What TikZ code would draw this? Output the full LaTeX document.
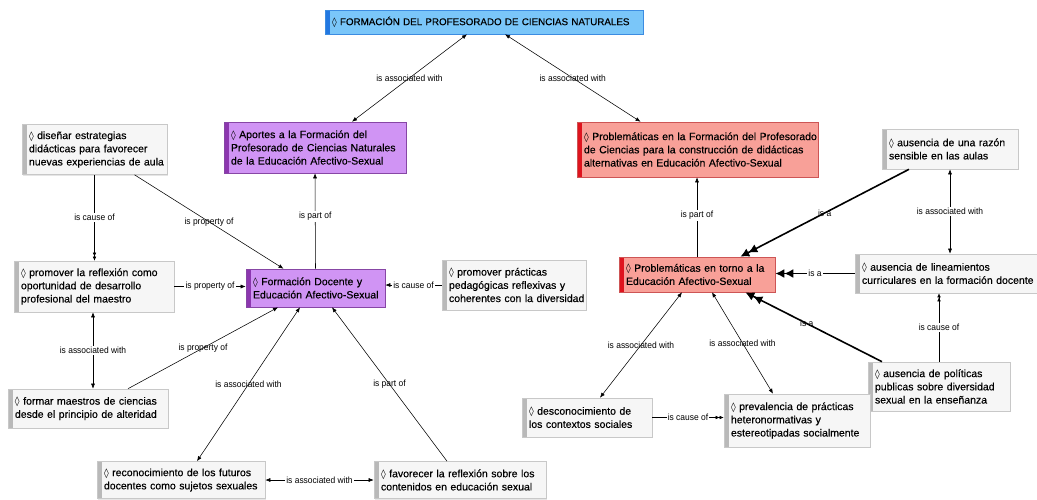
\documentclass[tikz,border=0pt]{standalone}
\usepackage{fontspec}
\setmainfont{Liberation Sans}
\newfontfamily\nodefam{Liberation Sans}[FakeBold=0.35]
\newfontfamily\lblfam{Liberation Sans}[FakeStretch=0.94]
\newfontfamily\symfam{DejaVu Sans}
\usetikzlibrary{arrows.meta,shadows}
\definecolor{gfill}{RGB}{246,246,246}
\definecolor{gborder}{RGB}{200,200,200}
\definecolor{gbar}{RGB}{185,185,185}
\definecolor{pfill}{RGB}{208,148,244}
\definecolor{pborder}{RGB}{135,70,165}
\definecolor{pbar}{RGB}{140,55,175}
\definecolor{rfill}{RGB}{248,160,152}
\definecolor{rborder}{RGB}{205,85,85}
\definecolor{rbar}{RGB}{222,20,30}
\definecolor{bfill}{RGB}{122,198,249}
\definecolor{bborder}{RGB}{60,140,225}
\definecolor{bbar}{RGB}{35,120,225}
\newcommand\nodefont{\nodefam\fontsize{10.5}{13.2}\selectfont}
\newcommand\topfont{\nodefam\fontsize{9.8}{12}\selectfont}
\newcommand\lblfont{\lblfam\fontsize{9}{10}\selectfont}
\newcommand\dm{{\symfam\fontsize{9.5}{10}\selectfont ◊}}
\newcommand\tl[1]{\mbox{#1}}
\tikzset{
  cbox/.style={rectangle, inner xsep=7pt, inner ysep=2pt, align=left, font=\nodefont, text=black,
    line width=0.6pt, drop shadow={shadow xshift=1.2pt, shadow yshift=-1.2pt, opacity=0.2}},
  gbox/.style={cbox, draw=gborder, fill=gfill,
    path picture={\fill[gbar] (path picture bounding box.north west) rectangle ([xshift=5pt]path picture bounding box.south west);}},
  pbox/.style={cbox, draw=pborder, fill=pfill,
    path picture={\fill[pbar] (path picture bounding box.north west) rectangle ([xshift=5pt]path picture bounding box.south west);}},
  rbox/.style={cbox, draw=rborder, fill=rfill,
    path picture={\fill[rbar] (path picture bounding box.north west) rectangle ([xshift=5pt]path picture bounding box.south west);}},
  bbox/.style={cbox, draw=bborder, fill=bfill, font=\topfont,
    path picture={\fill[bbar] (path picture bounding box.north west) rectangle ([xshift=5pt]path picture bounding box.south west);}},
  dims/.style 2 args={minimum width=#1, minimum height=#2, text width=#1-14pt},
  conn/.style={draw=black, line width=0.55pt},
  one/.style={conn, -{Latex[length=5pt,width=4pt]}},
  both/.style={conn, {Latex[length=5pt,width=4pt]}-{Latex[length=5pt,width=4pt]}},
  dbl/.style={conn, -{Latex[length=4pt,width=3.6pt]Latex[length=4pt,width=3.6pt]}},
  isa/.style={draw=black, line width=1.6pt, -{Latex[length=9pt,width=9pt]Latex[length=9pt,width=9pt]}},
  lbl/.style={font=\lblfont, fill=white, inner sep=1.2pt, text=black},
  lbln/.style={font=\lblfont, inner sep=1pt, text=black}
}
\begin{document}
\begin{tikzpicture}[x=1pt,y=-1pt]
\useasboundingbox[fill=white] (0,0) rectangle (1037,499);
% nodes
\node[bbox, dims={318pt}{24pt}] (top) at (484,22) {\tl{\dm{} FORMACIÓN DEL PROFESORADO DE CIENCIAS NATURALES}};
\node[pbox, dims={182pt}{51pt}] (apo) at (315,147.5) {\tl{\dm{} Aportes a la Formación del}\\\tl{Profesorado de Ciencias Naturales}\\\tl{de la Educación Afectivo-Sexual}};
\node[rbox, dims={241pt}{55pt}] (pfp) at (697.5,149.5) {\tl{\dm{} Problemáticas en la Formación del Profesorado}\\\tl{de Ciencias para la construcción de didácticas}\\\tl{alternativas en Educación Afectivo-Sexual}};
\node[gbox, dims={145pt}{50pt}] (dis) at (94.5,149.5) {\tl{\dm{} diseñar estrategias}\\\tl{didácticas para favorecer}\\\tl{nuevas experiencias de aula}};
\node[gbox, dims={160pt}{51pt}] (prr) at (94,286.5) {\tl{\dm{} promover la reflexión como}\\\tl{oportunidad de desarrollo}\\\tl{profesional del maestro}};
\node[pbox, dims={139pt}{38pt}] (fd) at (315.5,288) {\tl{\dm{} Formación Docente y}\\\tl{Educación Afectivo-Sexual}};
\node[gbox, dims={144pt}{50pt}] (ppp) at (514,285) {\tl{\dm{} promover prácticas}\\\tl{pedagógicas reflexivas y}\\\tl{coherentes con la diversidad}};
\node[gbox, dims={160pt}{39pt}] (fm) at (88,408.5) {\tl{\dm{} formar maestros de ciencias}\\\tl{desde el principio de alteridad}};
\node[gbox, dims={168pt}{37pt}] (rec) at (181,480) {\tl{\dm{} reconocimiento de los futuros}\\\tl{docentes como sujetos sexuales}};
\node[gbox, dims={172pt}{37pt}] (fav) at (460,480) {\tl{\dm{} favorecer la reflexión sobre los}\\\tl{contenidos en educación sexual}};
\node[rbox, dims={156pt}{35pt}] (pt) at (697,274.5) {\tl{\dm{} Problemáticas en torno a la}\\\tl{Educación Afectivo-Sexual}};
\node[gbox, dims={136pt}{40pt}] (ar) at (950,149) {\tl{\dm{} ausencia de una razón}\\\tl{sensible en las aulas}};
\node[gbox, dims={182pt}{39pt}] (al) at (946,273.5) {\tl{\dm{} ausencia de lineamientos}\\\tl{curriculares en la formación docente}};
\node[gbox, dims={142pt}{49pt}] (ap) at (939,386.5) {\tl{\dm{} ausencia de políticas}\\\tl{publicas sobre diversidad}\\\tl{sexual en la enseñanza}};
\node[gbox, dims={130pt}{39pt}] (dc) at (587,417.5) {\tl{\dm{} desconocimiento de}\\\tl{los contextos sociales}};
\node[gbox, dims={146pt}{53pt}] (pv) at (797,420.5) {\tl{\dm{} prevalencia de prácticas}\\\tl{heteronormativas y}\\\tl{estereotipadas socialmente}};
% connectors, left part
\draw[both] ([xshift=37pt]apo.north) -- node[lbln]{is associated with} ([xshift=-17pt]top.south);
\draw[both] ([xshift=-57pt]pfp.north) -- node[lbln]{is associated with} ([xshift=21pt]top.south);
\draw[one] (fd.north) -- node[lbl, pos=0.55]{is part of} (apo.south);
\draw[one] ([xshift=40pt]dis.south) -- node[lbln]{is property of} ([xshift=-32pt]fd.north);
\draw[dbl] (dis.south) -- node[lbl]{is cause of} (dis.south |- prr.north);
\draw[one] (prr.east) -- node[lbl]{is property of} (prr.east -| fd.west);
\draw[both] ([xshift=-1pt]prr.south) -- node[lbl]{is associated with} ([xshift=-1pt]prr.south |- fm.north);
\draw[one] ([xshift=40pt]fm.north) -- node[lbln]{is property of} ([xshift=-37.5pt]fd.south);
\draw[both] ([xshift=-15.5pt]fd.south) -- node[lbln]{is associated with} ([xshift=16pt]rec.north);
\draw[one] ([xshift=-13pt]fav.north) -- node[lbln]{is part of} ([xshift=16.5pt]fd.south);
\draw[one] (ppp.west) -- node[lbl]{is cause of} (ppp.west -| fd.east);
\draw[both] (rec.east) -- node[lbl]{is associated with} (fav.west);
% connectors, right part
\draw[one] (pt.north) -- node[lbl, pos=0.52]{is part of} (pt.north |- pfp.south);
\draw[isa] ([xshift=-41pt]ar.south) -- node[lbln]{is a} ([xshift=-35pt]pt.north east);
\draw[isa] (al.west) -- node[lbl]{is a} (al.west -| pt.east);
\draw[isa] ([xshift=-57pt]ap.north) -- node[lbln, pos=0.55]{is a} ([xshift=-30pt]pt.south east);
\draw[both] (ar.south) -- node[lbl]{is associated with} (ar.south |- al.north);
\draw[dbl] (ap.north) -- node[lbl]{is cause of} (ap.north |- al.south);
\draw[both] ([xshift=-15pt]pt.south) -- node[lbln]{is associated with} ([xshift=13pt]dc.north);
\draw[both] ([xshift=15pt]pt.south) -- node[lbln]{is associated with} ([xshift=-24pt]pv.north);
\draw[dbl] (dc.east) -- node[lbl]{is cause of} (dc.east -| pv.west);
\end{tikzpicture}
\end{document}
